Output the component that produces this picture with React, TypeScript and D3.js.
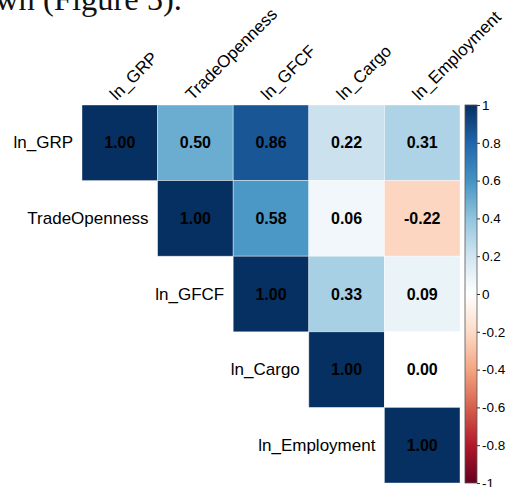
import { useEffect, useRef } from 'react'
import * as d3 from 'd3'

const VARS = ['ln_GRP', 'TradeOpenness', 'ln_GFCF', 'ln_Cargo', 'ln_Employment']

// upper triangle, row by row (starting at the diagonal)
const ROW_GRP = [1.0, 0.5, 0.86, 0.22, 0.31]
const ROW_TRADE = [1.0, 0.58, 0.06, -0.22]
const ROW_GFCF = [1.0, 0.33, 0.09]
const ROW_CARGO = [1.0, 0.0]
const ROW_EMP = [1.0]

const LEGEND_TICKS = [-1, -0.8, -0.6, -0.4, -0.2, 0, 0.2, 0.4, 0.6, 0.8, 1]
const RDBU = ['#67001F', '#B2182B', '#D6604D', '#F4A582', '#FDDBC7', '#FFFFFF', '#D1E5F0', '#92C5DE', '#4393C3', '#2166AC', '#053061']

export default function App() {
  const ref = useRef<SVGSVGElement>(null)

  useEffect(() => {
    if (!ref.current) return
    const width = 507
    const height = 487
    const svg = d3.select(ref.current)
    svg.selectAll('*').remove()
    svg.attr('width', width).attr('height', height)

    const font = 'Liberation Sans, Arial, sans-serif'
    const rows = [ROW_GRP, ROW_TRADE, ROW_GFCF, ROW_CARGO, ROW_EMP]

    const x = d3.scaleBand().domain(VARS).range([82, 460])
    const y = d3.scaleBand().domain(VARS).range([105, 483])
    const color = d3
      .scaleLinear<string>()
      .domain(d3.range(RDBU.length).map((i) => -1 + (2 * i) / (RDBU.length - 1)))
      .range(RDBU)
      .interpolate(d3.interpolateRgb)

    // caption fragment from the surrounding page
    svg.append('text')
      .attr('x', 182)
      .attr('y', 10)
      .attr('text-anchor', 'end')
      .attr('font-family', 'Liberation Serif, Times New Roman, serif')
      .attr('font-size', 32.5)
      .attr('fill', '#111')
      .text('shown (Figure 5).')

    const cells = rows.flatMap((vals, i) =>
      vals.map((v, k) => ({ r: VARS[i], c: VARS[i + k], v }))
    )

    const g = svg.append('g')
    g.selectAll('rect.cell')
      .data(cells)
      .join('rect')
      .attr('class', 'cell')
      .attr('x', (d) => x(d.c)!)
      .attr('y', (d) => y(d.r)!)
      .attr('width', x.bandwidth())
      .attr('height', y.bandwidth())
      .attr('fill', (d) => color(d.v))
      .attr('stroke', '#ffffff')
      .attr('stroke-opacity', 0.5)
      .attr('stroke-width', 0.8)

    g.selectAll('text.val')
      .data(cells)
      .join('text')
      .attr('class', 'val')
      .attr('x', (d) => x(d.c)! + x.bandwidth() / 2)
      .attr('y', (d) => y(d.r)! + y.bandwidth() / 2)
      .attr('text-anchor', 'middle')
      .attr('dominant-baseline', 'central')
      .attr('font-family', font)
      .attr('font-weight', 'bold')
      .attr('font-size', 16)
      .attr('fill', '#000')
      .text((d) => d.v.toFixed(2))

    // row labels, left of the diagonal cell
    g.selectAll('text.rowlab')
      .data(VARS)
      .join('text')
      .attr('class', 'rowlab')
      .attr('x', (d) => x(d)! - 9)
      .attr('y', (d) => y(d)! + y.bandwidth() / 2)
      .attr('text-anchor', 'end')
      .attr('dominant-baseline', 'central')
      .attr('font-family', font)
      .attr('font-size', 17)
      .attr('fill', '#000')
      .text((d) => d)

    // column labels, rotated
    g.selectAll('text.collab')
      .data(VARS)
      .join('text')
      .attr('class', 'collab')
      .attr('transform', (d) => `translate(${x(d)! + x.bandwidth() / 2 - 3},${101}) rotate(-45)`)
      .attr('font-family', font)
      .attr('font-size', 17)
      .attr('fill', '#000')
      .text((d) => d)

    // colour legend
    const lx = 465
    const lw = 12
    const ly = d3.scaleLinear().domain([-1, 1]).range([483, 105])
    const grad = svg.append('defs').append('linearGradient')
      .attr('id', 'cbar')
      .attr('x1', 0).attr('y1', 1).attr('x2', 0).attr('y2', 0)
    grad.selectAll('stop')
      .data(RDBU)
      .join('stop')
      .attr('offset', (_, i) => i / (RDBU.length - 1))
      .attr('stop-color', (d) => d)

    svg.append('rect')
      .attr('x', lx)
      .attr('y', ly(1))
      .attr('width', lw)
      .attr('height', ly(-1) - ly(1))
      .attr('fill', 'url(#cbar)')
      .attr('stroke', '#555')
      .attr('stroke-width', 0.8)

    const axis = svg.append('g')
      .attr('transform', `translate(${lx + lw},0)`)
      .call(d3.axisRight(ly).tickValues(LEGEND_TICKS).tickSize(3).tickPadding(2).tickFormat((d) => String(+d)))
    axis.select('.domain').remove()
    axis.selectAll('line').attr('stroke', '#333')
    axis.selectAll('text')
      .attr('font-family', font)
      .attr('font-size', 13.5)
      .attr('fill', '#000')
  }, [])

  return (
    <svg ref={ref} style={{ position: 'absolute', left: 0, top: 0, background: '#fff' }} />
  )
}
